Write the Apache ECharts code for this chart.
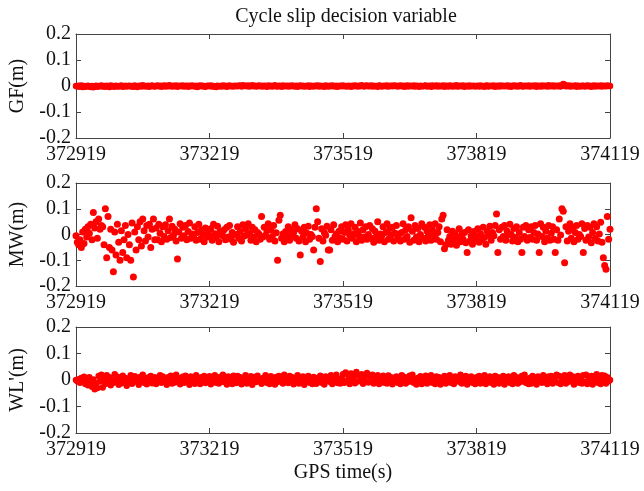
<!DOCTYPE html>
<html>
<head>
<meta charset="utf-8">
<script src="https://cdn.jsdelivr.net/npm/echarts@6/dist/echarts.min.js"></script>
<style>
  html, body { margin: 0; padding: 0; background: #fff; }
  #main { width: 644px; height: 491px; }
</style>
</head>
<body>
<div id="main"></div>
<script>
// GPS time: first epoch and sampling step (s)
var startTime = 372919;
var step = 3;
var xTicks = [372919, 373219, 373519, 373819, 374119];
var yTicks = [-0.2, -0.1, 0, 0.1, 0.2];
var panelNames = ['GF(m)', 'MW(m)', "WL'(m)"];

// decision variables, millimetres, one value per epoch (rows = 60 s)
var gfMm = [
  0,-2,1,-3,2,-4,0,-3,-1,1,-2,-4,0,-5,-2,1,-3,0,-1,2,
  -2,0,-3,1,-1,-4,2,-2,0,-3,1,-1,-2,0,2,-3,-1,1,-2,0,
  1,-2,0,-3,2,-1,-4,0,1,-2,3,-1,0,-2,1,-3,0,2,-1,-2,
  0,2,-1,1,-3,0,2,-2,1,-1,3,0,-2,1,-1,2,-3,0,1,-1,
  2,-2,0,1,-3,1,-1,2,0,-2,1,-4,0,2,-1,1,-2,-3,0,1,
  -1,2,-2,0,-3,-4,1,-1,0,-2,2,-1,1,-3,0,2,-1,0,-2,1,
  0,-1,2,1,-2,3,0,1,-1,2,-2,0,3,-1,1,-2,0,2,-1,1,
  -2,1,0,-3,2,-1,1,-2,0,3,-1,-2,1,0,-3,2,-1,0,1,-2,
  1,-1,2,0,-2,1,-3,0,2,-1,1,-2,0,-1,2,-3,1,0,-2,1,
  0,2,-2,1,-1,0,-3,2,0,-2,1,-1,2,0,-2,1,-3,0,1,-1,
  2,-1,0,-2,1,0,-3,1,-1,2,0,-2,1,-1,3,0,-2,1,2,-1,
  0,2,-2,1,-1,0,-3,2,1,-2,0,1,-1,2,-2,0,1,-1,2,0,
  1,-2,0,2,-1,1,-3,0,2,-2,1,0,-1,2,-2,1,0,-3,1,-1,
  -1,1,2,-2,0,1,-3,2,-1,0,2,-2,1,-1,0,2,-3,1,0,-2,
  2,0,-2,1,-1,3,-2,0,1,-1,2,-3,0,1,-2,2,-1,0,1,-2,
  0,1,-2,2,-1,0,-3,1,2,-2,0,1,-1,2,-3,0,1,-2,2,-1,
  1,-1,0,2,-2,1,-3,0,2,-1,1,-2,0,3,-1,-2,1,0,-1,2,
  -2,0,1,-1,2,-3,1,0,-2,2,-1,1,0,-2,3,-1,0,2,-2,1,
  0,-1,2,-2,1,8,5,-1,0,2,-2,1,-1,0,2,-3,1,0,-2,1,
  1,-2,0,2,-1,1,-3,0,2,-2,1,0,-1,2,-2,1,0,-1,2,0,
  0
];
var mwMm = [
  -5,-30,-40,-20,-50,10,-35,20,-10,30,5,40,-20,85,25,50,-15,60,20,35,
  30,-40,100,-90,70,-50,20,-60,-145,10,-80,40,-30,-100,15,-70,-20,35,-90,0,
  -40,-100,45,-165,10,-60,30,-20,50,-45,60,15,-25,35,-10,40,-50,20,60,-20,
  25,-20,40,5,-28,30,-8,38,-18,15,60,-12,32,-3,20,-25,-95,10,42,-15,
  28,-5,35,-20,12,45,-15,2,-8,30,-22,8,40,-18,18,0,-28,25,-10,5,
  -6,22,-22,40,3,-12,32,-28,12,0,-5,18,-20,28,-10,35,-18,8,-30,-2,
  0,30,-15,12,-25,38,-6,22,-2,42,5,-22,28,-10,18,-28,8,2,-18,70,
  -10,28,-3,15,42,-18,18,-8,35,-25,7,-100,55,75,-15,2,-28,12,-6,30,
  -22,18,-2,8,38,-15,22,-25,-80,13,-10,28,-28,5,32,-18,0,-8,-60,28,
  100,50,-15,-105,22,-25,8,-3,32,-60,-60,18,-22,38,-8,2,-28,13,-15,30,
  -18,8,38,-25,18,-2,42,-15,3,28,-28,13,-5,45,-22,18,-10,30,-18,0,
  35,-15,22,-30,13,-8,50,-22,2,-5,30,-28,8,42,-18,23,-2,28,-25,5,
  35,-15,2,-25,8,42,-18,18,-8,30,-30,65,13,-22,35,-10,23,-28,0,42,
  -15,28,-25,13,-2,38,-22,18,-5,42,-18,8,30,-28,60,75,-55,-40,18,-22,
  -8,-38,13,-20,3,-42,-12,22,-28,0,-18,8,-32,-70,18,-25,-5,-38,12,-20,
  -8,22,-30,3,-20,28,-12,-38,13,-2,32,-22,8,-5,35,80,-70,18,-18,28,
  -8,35,-22,13,-2,40,0,-25,23,-12,30,-28,8,-18,-70,28,-8,35,-22,18,
  -12,30,-18,8,35,-22,2,-70,42,-8,28,-28,13,-15,35,-22,5,30,-18,-70,
  18,-22,60,-2,100,90,-110,30,-25,13,42,-15,28,-28,8,35,-18,0,-8,42,
  -70,23,-22,35,-10,28,-32,8,42,-15,30,-25,2,48,-30,-90,-120,-135,70,-18,
  20
];
var wlMm = [
  0,-5,3,-10,8,-3,12,-15,5,-20,10,-8,-25,2,-35,-12,-30,15,-6,20,
  -28,4,-15,18,-2,10,-20,0,-10,22,-5,12,-18,6,-12,16,-3,8,-22,2,
  -8,18,-14,0,14,-6,7,-18,11,-2,20,-10,4,-16,9,-4,15,-12,-1,10,
  -15,6,-2,18,-10,13,-5,1,-18,10,-7,16,-13,5,-9,20,0,8,-16,3,
  12,-10,16,-4,2,-18,13,-1,7,-14,18,-8,4,-15,10,-3,15,-11,6,-6,
  14,-16,8,-3,18,-10,1,-13,11,-6,20,-8,3,-17,13,-1,9,-15,16,-5,
  -11,15,-4,10,-16,6,-1,18,-13,8,-6,14,-18,4,11,-8,16,-3,1,-14,
  8,-6,18,-10,3,-15,14,0,6,-17,11,-8,15,-3,7,-13,20,-5,2,-11,
  15,-7,10,-16,4,-3,18,-13,6,0,13,-18,8,-5,15,-10,1,-15,11,-4,
  -14,8,-5,16,-10,2,-17,13,-3,10,-7,18,-15,5,0,20,-11,4,-13,7,
  22,-10,28,-4,15,-15,25,0,10,-12,30,-6,18,-3,22,-14,12,-5,26,-9,
  15,-7,20,-13,10,-3,18,-15,5,-8,16,-10,3,-13,17,-5,10,-16,8,0,
  13,-10,6,-15,18,-3,11,-13,1,-7,16,-5,20,-10,4,-17,8,0,14,-15,
  6,-8,16,-13,3,-5,18,-10,8,-15,13,0,10,-17,6,-3,15,-13,1,-7,
  18,-10,6,-15,13,-3,10,-7,20,-13,4,-5,15,-17,8,0,13,-10,6,-15,
  10,-5,15,-13,1,-7,18,-15,6,-3,13,-10,8,-17,15,0,10,-13,4,-5,
  15,-17,8,-3,13,-10,6,-15,18,0,10,-13,4,-7,15,-5,20,-10,1,-15,
  8,-13,15,-5,4,-17,13,0,10,-10,18,-7,6,-15,13,-3,15,-13,8,-5,
  20,-10,15,-15,6,-3,18,-13,10,-7,20,0,13,-17,8,-5,15,-10,4,-13,
  18,-7,20,-15,10,-3,15,-17,13,-5,22,-10,8,-15,18,0,16,-13,10,-5,
  0
];

function toPoints(arr){
  var out = [];
  for (var i = 0; i < arr.length; i++) {
    out.push([i * step, arr[i] / 1000]);
  }
  return out;
}

var allData = [gfMm, mwMm, wlMm];
var tops = [34, 183, 327];
var heights = [104, 103, 106];
var font = 'Liberation Serif, Times New Roman, serif';
var xSpan = xTicks[xTicks.length - 1] - xTicks[0];
var xStep = xTicks[1] - xTicks[0];

var grids = [], xAxes = [], yAxes = [], series = [];
for (var p = 0; p < 3; p++) {
  grids.push({ left: 72, right: 34, top: tops[p], height: heights[p] });
  var lineStyle = { color: '#444', width: 1 };
  // bottom axis with labels
  xAxes.push({
    type: 'value', gridIndex: p, position: 'bottom',
    min: 0, max: xSpan, interval: xStep,
    axisLine: { show: true, onZero: false, lineStyle: lineStyle },
    axisTick: { inside: true, length: 5, lineStyle: lineStyle },
    splitLine: { show: false },
    axisLabel: {
      color: '#111', fontFamily: font, fontSize: 20, margin: 7,
      formatter: function (v) { return String(v + startTime); }
    },
    name: p === 2 ? 'GPS time(s)' : '',
    nameLocation: 'middle', nameGap: 30,
    nameTextStyle: { color: '#111', fontFamily: font, fontSize: 20 }
  });
  // top box edge
  xAxes.push({
    type: 'value', gridIndex: p, position: 'top',
    min: 0, max: xSpan, interval: xStep,
    axisLine: { show: true, onZero: false, lineStyle: lineStyle },
    axisTick: { inside: true, length: 5, lineStyle: lineStyle },
    splitLine: { show: false },
    axisLabel: { show: false }
  });
  yAxes.push({
    type: 'value', gridIndex: p, position: 'left',
    min: yTicks[0], max: yTicks[yTicks.length - 1], interval: 0.1,
    axisLine: { show: true, onZero: false, lineStyle: lineStyle },
    axisTick: { inside: true, length: 5, lineStyle: lineStyle },
    splitLine: { show: false },
    axisLabel: { color: '#111', fontFamily: font, fontSize: 20, margin: 5 },
    name: panelNames[p], nameLocation: 'middle', nameGap: 48,
    nameTextStyle: { color: '#111', fontFamily: font, fontSize: 20 }
  });
  yAxes.push({
    type: 'value', gridIndex: p, position: 'right',
    min: yTicks[0], max: yTicks[yTicks.length - 1], interval: 0.1,
    axisLine: { show: true, onZero: false, lineStyle: lineStyle },
    axisTick: { inside: true, length: 5, lineStyle: lineStyle },
    splitLine: { show: false },
    axisLabel: { show: false }
  });
  series.push({
    type: 'scatter',
    xAxisIndex: p * 2, yAxisIndex: p * 2,
    symbolSize: p === 1 ? 7 : 6.5,
    itemStyle: { color: '#ff0000', opacity: 1 },
    data: toPoints(allData[p])
  });
}

var myChart = echarts.init(document.getElementById('main'));
var option = {
  backgroundColor: '#fff',
  animation: false,
  title: {
    text: 'Cycle slip decision variable',
    left: 341, top: 2, textAlign: 'center',
    textStyle: { color: '#111', fontFamily: font, fontSize: 20, fontWeight: 'normal' }
  },
  grid: grids,
  xAxis: xAxes,
  yAxis: yAxes,
  series: series
};
myChart.setOption(option);
window.addEventListener('resize', function () {
  myChart.resize();
});
</script>
</body>
</html>
